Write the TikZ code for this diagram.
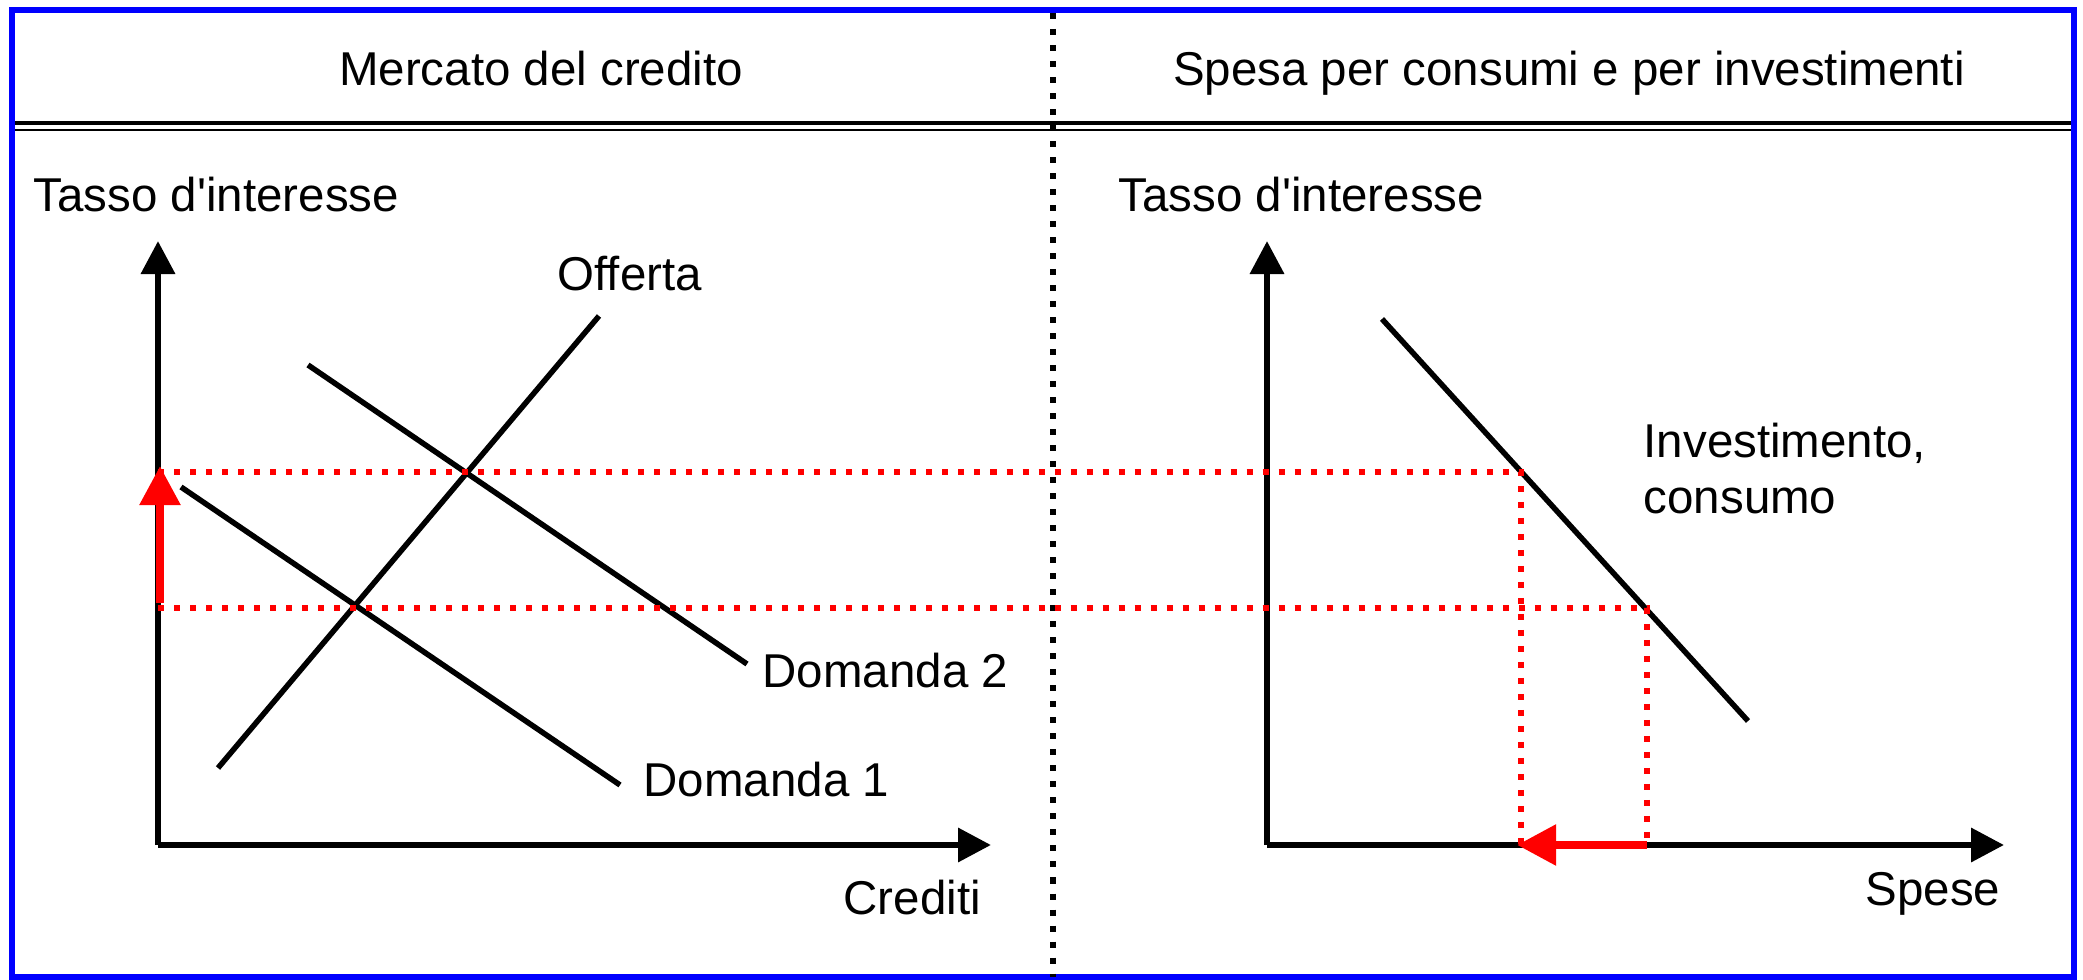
\documentclass[tikz,border=0pt]{standalone}
\usepackage{fontspec}
\setmainfont{Liberation Sans}
\usetikzlibrary{positioning,arrows.meta}
\usepackage{xcolor}
\definecolor{FrameBlue}{RGB}{0,0,255}
\definecolor{GuideRed}{RGB}{255,0,0}

\begin{document}
\begin{tikzpicture}[
x=0.01cm,y=-0.01cm,
lbl/.style={
  anchor=base west,
  inner sep=0pt,
  font=\fontsize{13.5}{16}\selectfont
},
title/.style={lbl,anchor=base},
axis/.style={-{Triangle[length=3.3mm,width=3.3mm]},line width=0.65mm},
curve/.style={line width=0.55mm},
divider/.style={line width=0.6mm,dash pattern=on 0.6mm off 1mm},
guide/.style={draw=GuideRed,line width=0.6mm,dash pattern=on 0.6mm off 1mm},
movearrow/.style={-{Triangle[length=3.9mm,width=3.9mm]},draw=GuideRed,line width=0.85mm}
]
\useasboundingbox (0,0) rectangle (2083,980);

% frame and header
\draw[FrameBlue,line width=0.55mm] (12,10) rectangle (2074,977);
\coordinate (hl) at (15,123);
\coordinate (hr) at (2071,123);
\draw[line width=0.4mm] (hl) -- (hr);
\draw[line width=0.2mm] ([yshift=-0.67mm]hl) -- ([yshift=-0.67mm]hr);
\coordinate (divtop) at (1053,13);
\coordinate (divbot) at (1053,977);
\draw[divider] (divtop) -- (divbot);

\node[title] (ltitle) at (541,86) {Mercato del credito};
\node[title] (rtitle) at (1569,86) {Spesa per consumi e per investimenti};

% credit market
\coordinate (lo) at (158,845);
\coordinate (lytip) at (158,241);
\coordinate (lxtip) at (991,845);
\draw[axis] (lo) -- (lytip);
\draw[axis] (lo) -- (lxtip);
\node[lbl] (lylab) at (33,212) {Tasso d\textquotesingle interesse};
\node[lbl] (lxlab) at (843,914) {Crediti};

\coordinate (offa) at (218,768);
\coordinate (offb) at (599,316);
\coordinate (dema) at (181,487);
\coordinate (demb) at (620,785);
\coordinate (dembisa) at (308,365);
\coordinate (dembisb) at (747,664);
\draw[curve] (offa) -- (offb);
\draw[curve] (dema) -- (demb);
\draw[curve] (dembisa) -- (dembisb);
\node[lbl] (offlab) at (557,291) {Offerta};
\node[lbl] (demlab) at (643,796) {Domanda 1};
\node[lbl] (dembislab) at (762,687) {Domanda 2};

% spending
\coordinate (ro) at (1267,845);
\coordinate (rytip) at (1267,241);
\coordinate (rxtip) at (2004,845);
\draw[axis] (ro) -- (rytip);
\draw[axis] (ro) -- (rxtip);
\node[lbl] (rylab) at (1118,212) {Tasso d\textquotesingle interesse};
\node[lbl] (rxlab) at (1865,905) {Spese};

\coordinate (inva) at (1382,319);
\coordinate (invb) at (1748,721);
\draw[curve] (inva) -- (invb);
\node[lbl,align=left,font=\fontsize{13.5}{16}\selectfont] (invlab) at (1643,514) {Investimento,\\consumo};

% red guides
\coordinate (hiy) at (158,472);
\coordinate (loy) at (158,608);
\coordinate (hipt) at (1521,472);
\coordinate (lopt) at (1647,608);
\coordinate (hix) at (1521,845);
\coordinate (lox) at (1647,845);
\draw[guide] (hiy) -- (hipt) -- (hix);
\draw[guide] (loy) -- (lopt) -- (lox);
\coordinate (risefrom) at (160,603);
\coordinate (riseto) at (160,466);
\draw[movearrow] (risefrom) -- (riseto);
\draw[movearrow] (lox) -- ([xshift=-0.4mm]hix);
\end{tikzpicture}
\end{document}
